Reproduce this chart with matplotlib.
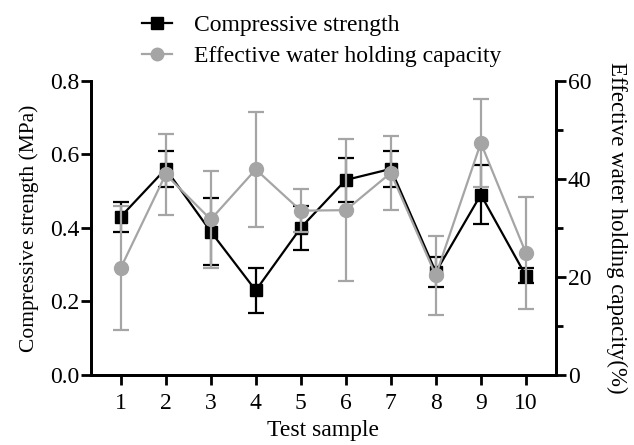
import matplotlib
matplotlib.use("Agg")
import matplotlib.pyplot as plt
from matplotlib.lines import Line2D
from matplotlib.ticker import MultipleLocator

plt.rcParams["font.family"] = ["Liberation Serif", "DejaVu Serif"]

samples = [1, 2, 3, 4, 5, 6, 7, 8, 9, 10]
strength = [0.43, 0.56, 0.39, 0.23, 0.40, 0.53, 0.56, 0.28, 0.49, 0.27]
strength_err = [0.04, 0.05, 0.09, 0.06, 0.06, 0.06, 0.05, 0.04, 0.08, 0.02]
water = [21.8, 40.9, 31.7, 41.9, 33.5, 33.6, 41.2, 20.3, 47.3, 24.9]
water_err = [12.6, 8.3, 9.8, 11.7, 4.4, 14.4, 7.6, 8.0, 8.9, 11.4]

BLACK = "#000000"
GREY = "#a5a5a5"

fig = plt.figure(figsize=(6.34, 4.45), dpi=100)
ax = fig.add_axes([0.1435, 0.157, 0.7335, 0.662])
ax2 = ax.twinx()

ax.errorbar(samples, strength, yerr=strength_err, color=BLACK, marker="s",
            markersize=9, linewidth=1.6, elinewidth=1.6, capsize=6, capthick=1.6)
ax2.errorbar(samples, water, yerr=water_err, color=GREY, marker="o",
             markersize=10, linewidth=1.6, elinewidth=1.6, capsize=6, capthick=1.6)

ax.set_xlim(0.34, 10.67)
ax.set_ylim(0, 0.8)
ax2.set_ylim(0, 60)
ax.set_xticks(samples)
ax.yaxis.set_major_locator(MultipleLocator(0.2))
ax.yaxis.set_major_formatter(plt.FuncFormatter(lambda v, p: f"{v:.1f}"))
ax2.yaxis.set_major_locator(MultipleLocator(20))
ax2.yaxis.set_minor_locator(MultipleLocator(10))

for a in (ax, ax2):
    a.spines["top"].set_visible(False)
    for side in ("left", "right", "bottom"):
        a.spines[side].set_linewidth(2)
    a.tick_params(which="major", direction="out", length=7, width=2, labelsize=17, pad=1.5)
    a.tick_params(which="minor", direction="out", length=5, width=2)
ax.tick_params(axis="x", pad=6)

ax.set_xlabel("Test sample", fontsize=17, labelpad=4)
ax.set_ylabel("Compressive strength (MPa)", fontsize=15.5, labelpad=8)
ax2.set_ylabel("Effective water holding capacity(%)", fontsize=16.5,
               rotation=270, labelpad=26)

handles = [
    Line2D([], [], color=BLACK, marker="s", markersize=9, linewidth=1.6),
    Line2D([], [], color=GREY, marker="o", markersize=9, linewidth=1.6),
]
labels = ["Compressive strength", "Effective water holding capacity"]
fig.legend(handles, labels, loc="upper left", bbox_to_anchor=(0.19, 1.015),
           frameon=False, fontsize=17, handlelength=1.3, handletextpad=0.9,
           labelspacing=0.4)

fig.savefig("out.png", dpi=100)
